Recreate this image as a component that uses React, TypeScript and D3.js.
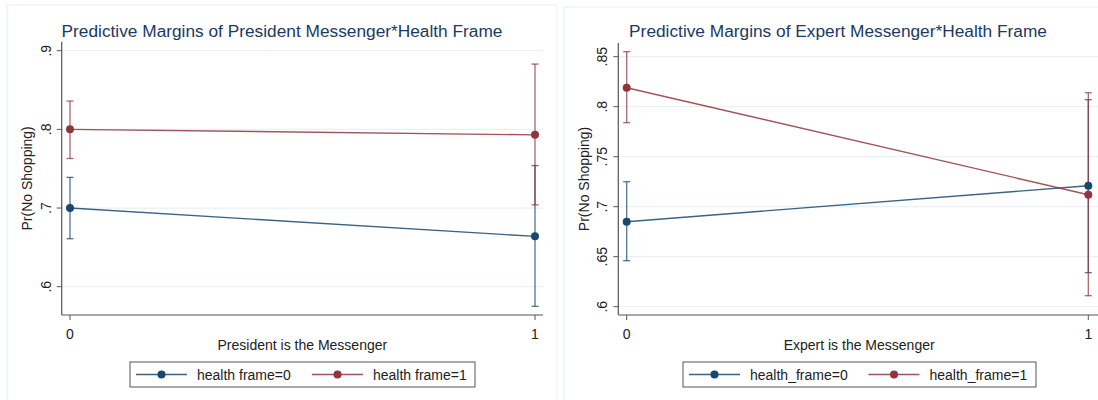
import React from "react";
import * as d3 from "d3";

// x categories (messenger dummy)
const xCats = [0, 1];

// President messenger panel
const presTicks = [0.6, 0.7, 0.8, 0.9];
const presMargin0 = [0.7, 0.664];
const presLow0 = [0.661, 0.575];
const presHigh0 = [0.739, 0.754];
const presMargin1 = [0.8, 0.793];
const presLow1 = [0.763, 0.704];
const presHigh1 = [0.836, 0.883];
const presLegend = ["health frame=0", "health frame=1"];

// Expert messenger panel
const expTicks = [0.6, 0.65, 0.7, 0.75, 0.8, 0.85];
const expMargin0 = [0.685, 0.721];
const expLow0 = [0.646, 0.634];
const expHigh0 = [0.725, 0.807];
const expMargin1 = [0.819, 0.712];
const expLow1 = [0.784, 0.611];
const expHigh1 = [0.855, 0.814];
const expLegend = ["health_frame=0", "health_frame=1"];

const NAVY = "#1a476f";
const MAROON = "#90353b";
const FONT = "'Liberation Sans', Arial, sans-serif";

const fmt = (v: number) => d3.format(".2~f")(v).replace(/^0/, "");

type Series = { mid: number[]; lo: number[]; hi: number[]; color: string };

const Panel = ({ cfg }: any) => {
  const x = d3.scaleLinear().domain([0, 1]).range(cfg.xRange);
  const y = d3.scaleLinear().domain(cfg.yDomain).range(cfg.yRange);
  const line = d3
    .line<number>()
    .x((_, i) => x(xCats[i]))
    .y((d) => y(d));
  const series: Series[] = cfg.series;
  const lg = cfg.legend;
  return (
    <g fontFamily={FONT}>
      {/* panel frame */}
      <rect x={cfg.box[0]} y={cfg.box[1]} width={cfg.box[2]} height={cfg.box[3]} fill="#fff" stroke="#e6eff1" strokeWidth={1} />
      <text x={cfg.box[0] + cfg.box[2] / 2} y={37} textAnchor="middle" fontSize={17.3} fill="#1c3a64">
        {cfg.title}
      </text>
      {/* gridlines */}
      {cfg.ticks.map((t: number) => (
        <line key={"g" + t} x1={cfg.axisX} x2={cfg.plotRight} y1={y(t)} y2={y(t)} stroke="#e8f1f3" strokeWidth={1.3} />
      ))}
      {/* error bars */}
      {series.map((s, si) =>
        xCats.map((c, i) => (
          <g key={`e${si}${i}`} stroke={s.color} strokeOpacity={0.75} strokeWidth={1.3}>
            <line x1={x(c)} x2={x(c)} y1={y(s.lo[i])} y2={y(s.hi[i])} />
            <line x1={x(c) - 3.5} x2={x(c) + 3.5} y1={y(s.lo[i])} y2={y(s.lo[i])} />
            <line x1={x(c) - 3.5} x2={x(c) + 3.5} y1={y(s.hi[i])} y2={y(s.hi[i])} />
          </g>
        ))
      )}
      {/* connecting lines + markers */}
      {series.map((s, si) => (
        <g key={"l" + si}>
          <path d={line(s.mid) || ""} fill="none" stroke={s.color} strokeOpacity={0.85} strokeWidth={1.4} />
          {xCats.map((c, i) => (
            <circle key={i} cx={x(c)} cy={y(s.mid[i])} r={4} fill={s.color} />
          ))}
        </g>
      ))}
      {/* axes */}
      <line x1={cfg.axisX} x2={cfg.axisX} y1={cfg.axisTop} y2={cfg.axisBottom} stroke="#555" strokeWidth={1.2} />
      <line x1={cfg.axisX} x2={cfg.plotRight} y1={cfg.axisBottom} y2={cfg.axisBottom} stroke="#555" strokeWidth={1.2} />
      {cfg.ticks.map((t: number) => (
        <g key={"t" + t}>
          <line x1={cfg.axisX - 5} x2={cfg.axisX} y1={y(t)} y2={y(t)} stroke="#555" strokeWidth={1} />
          <text transform={`translate(${cfg.axisX - 11},${y(t)}) rotate(-90)`} textAnchor="middle" fontSize={14} fill="#222">
            {fmt(t)}
          </text>
        </g>
      ))}
      {xCats.map((c) => (
        <g key={"x" + c}>
          <line x1={x(c)} x2={x(c)} y1={cfg.axisBottom} y2={cfg.axisBottom + 5} stroke="#555" strokeWidth={1} />
          <text x={x(c)} y={cfg.axisBottom + 24} textAnchor="middle" fontSize={14} fill="#222">
            {c}
          </text>
        </g>
      ))}
      <text x={(cfg.axisX + cfg.plotRight) / 2} y={350} textAnchor="middle" fontSize={14} fill="#222">
        {cfg.xTitle}
      </text>
      <text
        transform={`translate(${cfg.axisX - 29.5},${(cfg.axisTop + cfg.axisBottom) / 2}) rotate(-90)`}
        textAnchor="middle"
        fontSize={14}
        fill="#222"
      >
        Pr(No Shopping)
      </text>
      {/* legend */}
      <rect x={lg.x} y={362} width={lg.w} height={25} fill="#fff" stroke="#555" strokeWidth={1} />
      {series.map((s, si) => (
        <g key={"lg" + si}>
          <line x1={lg.items[si]} x2={lg.items[si] + 51} y1={374.5} y2={374.5} stroke={s.color} strokeOpacity={0.85} strokeWidth={1.4} />
          <circle cx={lg.items[si] + 25.5} cy={374.5} r={4} fill={s.color} />
          <text x={lg.items[si] + 61} y={379.5} fontSize={14} fill="#222">
            {lg.labels[si]}
          </text>
        </g>
      ))}
    </g>
  );
};

const presCfg = {
  box: [7, 5, 550, 420],
  title: "Predictive Margins of President Messenger*Health Frame",
  xTitle: "President is the Messenger",
  axisX: 61.7,
  plotRight: 543,
  axisTop: 41.7,
  axisBottom: 315,
  xRange: [70, 535],
  yDomain: [0.6, 0.9],
  yRange: [286.7, 50.7],
  ticks: presTicks,
  series: [
    { mid: presMargin0, lo: presLow0, hi: presHigh0, color: NAVY },
    { mid: presMargin1, lo: presLow1, hi: presHigh1, color: MAROON },
  ],
  legend: { x: 130, w: 345, items: [136, 312], labels: presLegend },
};

const expCfg = {
  box: [564, 7, 548, 420],
  title: "Predictive Margins of Expert Messenger*Health Frame",
  xTitle: "Expert is the Messenger",
  axisX: 618.3,
  plotRight: 1100,
  axisTop: 43,
  axisBottom: 315,
  xRange: [626.7, 1088.3],
  yDomain: [0.6, 0.85],
  yRange: [306.7, 56.7],
  ticks: expTicks,
  series: [
    { mid: expMargin0, lo: expLow0, hi: expHigh0, color: NAVY },
    { mid: expMargin1, lo: expLow1, hi: expHigh1, color: MAROON },
  ],
  legend: { x: 683, w: 353, items: [689, 868.5], labels: expLegend },
};

export default function App() {
  return (
    <svg width={1098} height={400} style={{ position: "absolute", left: 0, top: 0 }}>
      <rect width={1098} height={400} fill="#fff" />
      <Panel cfg={presCfg} />
      <Panel cfg={expCfg} />
    </svg>
  );
}
